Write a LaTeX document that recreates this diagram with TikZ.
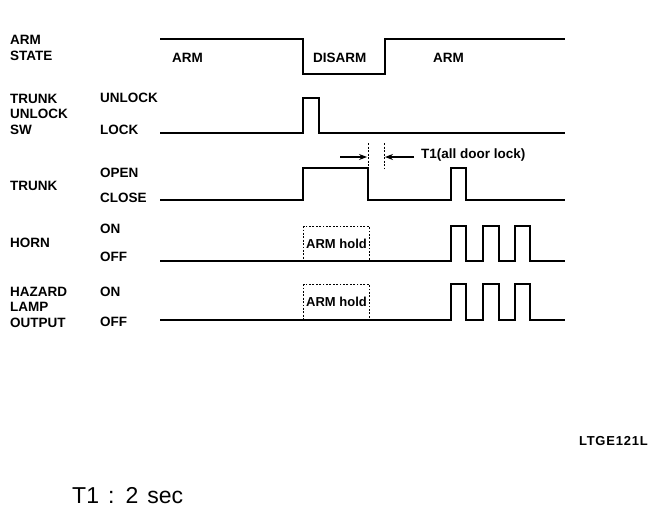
\documentclass[tikz,border=0pt]{standalone}
\usepackage{fontspec}
\setmainfont{Liberation Sans}
\usetikzlibrary{arrows.meta}

\begin{document}
\begin{tikzpicture}[x=1pt,y=-1pt,
  lbl/.style={anchor=west,inner sep=0pt,align=left,
    font=\fontsize{13.5}{15.5}\selectfont\bfseries},
  wave/.style={line width=1.4pt},
  hold/.style={draw,line width=1pt,dash pattern=on 1.8pt off 1.6pt,
    anchor=north west,minimum width=66pt,minimum height=35pt,inner sep=1pt,
    font=\fontsize{13}{15}\selectfont\bfseries},
  tick/.style={line width=0.9pt,dash pattern=on 2pt off 1.5pt}]
\useasboundingbox (0,0) rectangle (672,522);

% signal names
\node[lbl] (armstate) at (10,48) {ARM\\STATE};
\node[lbl] (trunksw) at (10,114) {TRUNK\\UNLOCK\\SW};
\node[lbl] (trunk) at (10,186) {TRUNK};
\node[lbl] (horn) at (10,243) {HORN};
\node[lbl] (hazard) at (10,307) {HAZARD\\LAMP\\OUTPUT};

% levels
\node[lbl] (unlock) at (100,98) {UNLOCK};
\node[lbl] (lock) at (100,130) {LOCK};
\node[lbl] (open) at (100,173) {OPEN};
\node[lbl] (close) at (100,198) {CLOSE};
\node[lbl] (hornon) at (100,229) {ON};
\node[lbl] (hornoff) at (100,257) {OFF};
\node[lbl] (hazon) at (100,292) {ON};
\node[lbl] (hazoff) at (100,322) {OFF};

% arm state
\draw[wave] (160,39) -| (303,74) -| (385,39) -- (565,39);
\node[lbl] (arm1) at (172,58) {ARM};
\node[lbl] (disarm) at (313,58) {DISARM};
\node[lbl] (arm2) at (433,58) {ARM};

% trunk unlock sw and trunk
\draw[wave] (160,133) -| (303,98) -| (319,133) -- (565,133);
\draw[wave] (160,200) -| (303,168) -| (368,200) -| (451,168) -| (466,200) -- (565,200);

% T1
\draw[tick] (368,143) -- (368,168);
\draw[tick] (384,143) -- (384,168);
\coordinate (t1from) at (340,157);
\coordinate (t1a) at (367,157);
\coordinate (t1b) at (385,157);
\coordinate (t1to) at (414,157);
\draw[-{Stealth[length=8pt,width=6pt]},line width=1.1pt] (t1from) -- (t1a);
\draw[-{Stealth[length=8pt,width=6pt]},line width=1.1pt] (t1to) -- (t1b);
\node[lbl] (t1lbl) at (421,155) {T1(all door lock)};

% horn and hazard lamp
\node[hold] (hornhold) at (303,226) {ARM hold};
\node[hold] (hazhold) at (303,284) {ARM hold};
\draw[wave] (160,261) -| (451,226) -| (466,261) -| (483,226) -| (499,261)
  -| (515,226) -| (530,261) -- (565,261);
\draw[wave] (160,320) -| (451,284) -| (466,320) -| (483,284) -| (499,320)
  -| (515,284) -| (530,320) -- (565,320);

% notes
\node[anchor=east,inner sep=0pt,
  font=\fontsize{13}{15}\selectfont\bfseries\addfontfeature{LetterSpace=6}]
  (figid) at (648,441) {LTGE121L};
\node[anchor=west,inner sep=0pt,font=\fontsize{23}{26}\selectfont]
  (t1note) at (72,496) {\spaceskip=9pt T1 : 2 sec};
\end{tikzpicture}
\end{document}
